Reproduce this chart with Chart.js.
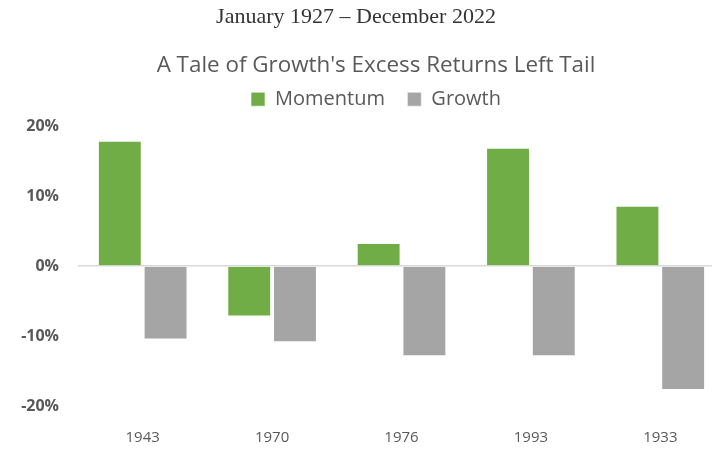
<!DOCTYPE html>
<html>
<head>
<meta charset="utf-8">
<script src="https://cdn.jsdelivr.net/npm/chart.js@4"></script>
<style>
  html, body { margin: 0; padding: 0; background: #fff; overflow: hidden; }
  #wrap { position: relative; width: 712px; height: 450px; overflow: hidden; }
  #box { position: absolute; left: 0; top: 0; width: 752px; height: 450px; }
  #period {
    position: absolute; top: 3px; left: 0; width: 712px; text-align: center;
    font-family: "Liberation Serif", serif; font-size: 22px; color: #333;
  }
</style>
</head>
<body>
<div id="wrap">
  <div id="box"><canvas id="chart"></canvas></div>
  <div id="period">January 1927 – December 2022</div>
</div>
<script>
const years = ['1943', '1970', '1976', '1993', '1933'];
const momentum = [17.9, -7.2, 3.3, 16.9, 8.6];
const growth = [-10.5, -10.9, -12.9, -12.9, -17.7];
const yTicks = [-20, -10, 0, 10, 20];

const textColor = '#595959';
const fontFamily = '"Open Sans", Lato, sans-serif';

new Chart(document.getElementById('chart'), {
  type: 'bar',
  data: {
    labels: years,
    datasets: [
      {
        label: 'Momentum',
        data: momentum,
        backgroundColor: '#70AD47',
        borderColor: 'rgba(255,255,255,0.6)',
        borderWidth: 1
      },
      {
        label: 'Growth',
        data: growth,
        backgroundColor: '#A5A5A5',
        borderColor: 'rgba(255,255,255,0.6)',
        borderWidth: 1
      }
    ]
  },
  options: {
    responsive: true,
    maintainAspectRatio: false,
    animation: false,
    categoryPercentage: 0.707,
    barPercentage: 0.96,
    layout: { padding: 0 },
    plugins: {
      title: {
        display: true,
        text: "A Tale of Growth's Excess Returns Left Tail",
        color: textColor,
        font: { family: fontFamily, size: 22.4, weight: 'normal', lineHeight: 1 },
        padding: { top: 54.8, bottom: 0 }
      },
      legend: {
        labels: {
          color: textColor,
          boxWidth: 14,
          boxHeight: 14,
          padding: 12,
          font: { family: fontFamily, size: 20 },
          // a little extra room after the first entry, as in the original
          generateLabels: chart => Chart.defaults.plugins.legend.labels.generateLabels(chart)
            .map((item, i) => Object.assign(item, { text: i === 0 ? item.text + '  ' : item.text }))
        }
      },
      tooltip: { enabled: false }
    },
    scales: {
      x: {
        grid: { display: false },
        border: { display: false },
        ticks: {
          color: textColor,
          padding: 15,
          font: { family: fontFamily, size: 15 }
        },
        afterFit: s => { s.height = 44; }
      },
      y: {
        min: -20,
        max: 20,
        afterBuildTicks: s => { s.ticks = yTicks.map(v => ({ value: v })); },
        grid: {
          color: c => (c.tick && c.tick.value === 0 ? '#d9d9d9' : 'rgba(0,0,0,0)'),
          lineWidth: 1.5,
          drawTicks: false
        },
        border: { display: false },
        ticks: {
          color: textColor,
          padding: 19,
          font: { family: fontFamily, size: 16, weight: 'bold' },
          callback: v => v + '%'
        },
        afterFit: s => { s.width = 78; }
      },
      // spacers so the plot area sits where it does in the original crop
      xPad: {
        type: 'category',
        position: 'top',
        grid: { display: false },
        border: { display: false },
        ticks: { display: false },
        afterFit: s => { s.height = 6.8; }
      },
      yPad: {
        type: 'linear',
        position: 'right',
        grid: { display: false },
        border: { display: false },
        ticks: { display: false },
        afterFit: s => { s.width = 27; }
      }
    }
  }
});
</script>
</body>
</html>
